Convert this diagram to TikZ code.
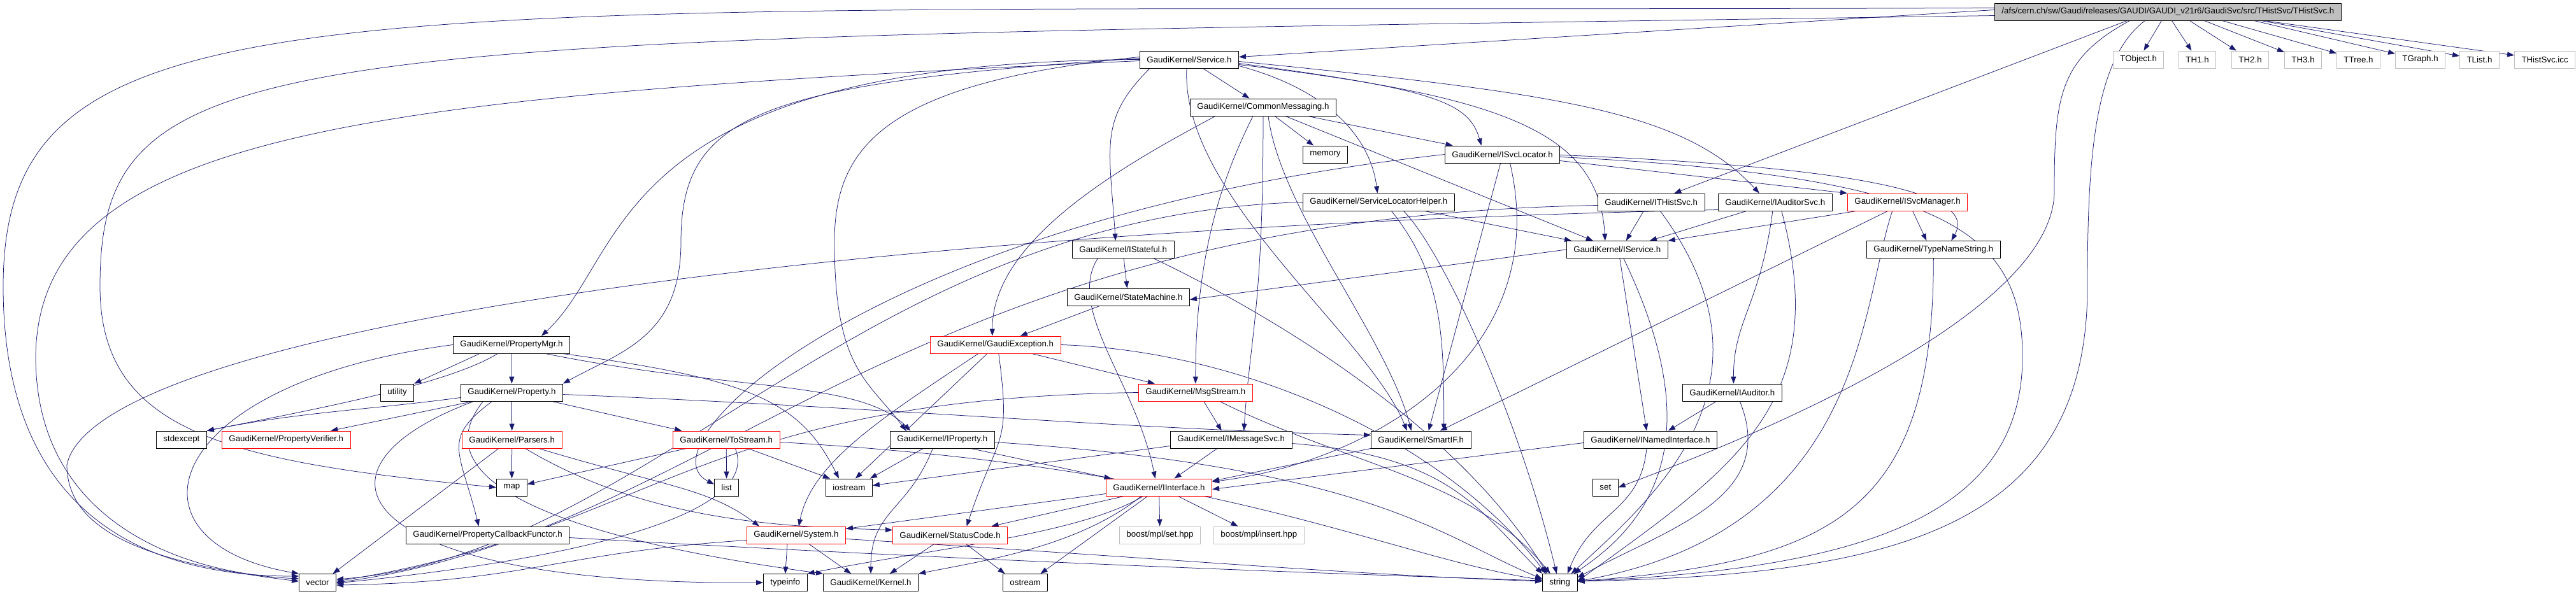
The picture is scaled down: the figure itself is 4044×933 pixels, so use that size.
\documentclass[tikz,border=0pt]{standalone}
\usepackage{fontspec}
\newfontfamily\dxfont{Liberation Sans}
\usetikzlibrary{arrows.meta}
\definecolor{edgeblue}{HTML}{191970}
\definecolor{rootgray}{HTML}{BFBFBF}
\pgfdeclarelayer{bg}
\pgfdeclarelayer{wires}
\pgfsetlayers{bg,wires,main}
\tikzset{
  hdr/.style={draw=black, fill=white, line width=0.9pt, anchor=west, inner xsep=11pt, inner ysep=0pt, minimum height=27pt, font=\dxfont\fontsize{13.3pt}{16pt}\selectfont},
  hdrcut/.style={hdr, draw=red},
  hdrext/.style={hdr, draw=rootgray},
  hdrroot/.style={hdr, fill=rootgray},
  incl/.style={draw=edgeblue, line width=0.75pt, -{Triangle[length=11pt,width=8pt]}}
}
\begin{document}
\begin{tikzpicture}[x=1pt,y=-1pt]
\begin{pgfonlayer}{bg}
\fill[white] (0,0) rectangle (4044,933);
\end{pgfonlayer}
\useasboundingbox (0,0) rectangle (4044,933);
\node[hdrroot] (top) at (3131,18.5) {/afs/cern.ch/sw/Gaudi/releases/GAUDI/GAUDI\_v21r6/GaudiSvc/src/THistSvc/THistSvc.h};
\node[hdr] (Service) at (1789,93.5) {GaudiKernel/Service.h};
\node[hdrext] (TObject) at (3317,93.5) {TObject.h};
\node[hdrext] (TH1) at (3420,93.5) {TH1.h};
\node[hdrext] (TH2) at (3503,93.5) {TH2.h};
\node[hdrext] (TH3) at (3586,93.5) {TH3.h};
\node[hdrext] (TTree) at (3668,93.5) {TTree.h};
\node[hdrext] (TGraph) at (3760,93.5) {TGraph.h};
\node[hdrext] (TList) at (3861,93.5) {TList.h};
\node[hdrext] (icc) at (3947,93.5) {THistSvc.icc};
\node[hdr] (CommonMsg) at (1868,168.5) {GaudiKernel/CommonMessaging.h};
\node[hdr] (memory) at (2045,242.5) {memory};
\node[hdr] (ISvcLocator) at (2268,242.5) {GaudiKernel/ISvcLocator.h};
\node[hdr] (SvcLocHelper) at (2045,317.5) {GaudiKernel/ServiceLocatorHelper.h};
\node[hdr] (ITHistSvc) at (2508,317.5) {GaudiKernel/ITHistSvc.h};
\node[hdr] (IAuditorSvc) at (2697,317.5) {GaudiKernel/IAuditorSvc.h};
\node[hdrcut] (ISvcManager) at (2900,317.5) {GaudiKernel/ISvcManager.h};
\node[hdr] (IStateful) at (1683,392) {GaudiKernel/IStateful.h};
\node[hdr] (IService) at (2459,392) {GaudiKernel/IService.h};
\node[hdr] (TypeNameString) at (2930,392) {GaudiKernel/TypeNameString.h};
\node[hdr] (StateMachine) at (1675,466.5) {GaudiKernel/StateMachine.h};
\node[hdr] (PropertyMgr) at (711,541.5) {GaudiKernel/PropertyMgr.h};
\node[hdrcut] (GaudiExc) at (1460,541.5) {GaudiKernel/GaudiException.h};
\node[hdr] (utility) at (597,616.5) {utility};
\node[hdr] (Property) at (723,616.5) {GaudiKernel/Property.h};
\node[hdrcut] (MsgStream) at (1787,616.5) {GaudiKernel/MsgStream.h};
\node[hdr] (IAuditor) at (2641,616.5) {GaudiKernel/IAuditor.h};
\node[hdr] (stdexcept) at (245,690.5) {stdexcept};
\node[hdrcut] (PropVerifier) at (348,690.5) {GaudiKernel/PropertyVerifier.h};
\node[hdrcut] (Parsers) at (725,690.5) {GaudiKernel/Parsers.h};
\node[hdrcut] (ToStream) at (1056,690.5) {GaudiKernel/ToStream.h};
\node[hdr] (IProperty) at (1397,690.5) {GaudiKernel/IProperty.h};
\node[hdr] (IMessageSvc) at (1837,690.5) {GaudiKernel/IMessageSvc.h};
\node[hdr] (SmartIF) at (2152,690.5) {GaudiKernel/SmartIF.h};
\node[hdr] (INamedIf) at (2486,690.5) {GaudiKernel/INamedInterface.h};
\node[hdr] (map) at (779,765.5) {map};
\node[hdr] (list) at (1121,765.5) {list};
\node[hdr] (iostream) at (1296,765.5) {iostream};
\node[hdrcut] (IInterface) at (1736,765.5) {GaudiKernel/IInterface.h};
\node[hdr] (set) at (2500,765.5) {set};
\node[hdr] (PropCbFunctor) at (637,840.5) {GaudiKernel/PropertyCallbackFunctor.h};
\node[hdrcut] (System) at (1172,840.5) {GaudiKernel/System.h};
\node[hdrcut] (StatusCode) at (1401,840.5) {GaudiKernel/StatusCode.h};
\node[hdrext] (mplset) at (1757,840.5) {boost/mpl/set.hpp};
\node[hdrext] (mplinsert) at (1905,840.5) {boost/mpl/insert.hpp};
\node[hdr] (vector) at (469,915) {vector};
\node[hdr] (typeinfo) at (1198,915) {typeinfo};
\node[hdr] (Kernel) at (1292,915) {GaudiKernel/Kernel.h};
\node[hdr] (ostream) at (1574,915) {ostream};
\node[hdr] (string) at (2421,915) {string};
\coordinate (wTopVec) at (5,450);
\coordinate (wTopMap) at (157,450);
\coordinate (wTopSet) at (3225,300);
\coordinate (wTopStr) at (3277,450);
\coordinate (wSvcProp) at (1069,380);
\coordinate (wSvcIProp) at (1310,380);
\coordinate (wSvcVec) at (56,560);
\coordinate (wLocStr) at (3175,560);
\coordinate (wAudVec) at (105,730);
\begin{pgfonlayer}{wires}
\draw[incl] ([yshift=3pt]top.west) -- ([yshift=4pt]Service.east);
\draw[incl] ([yshift=6pt]top.west) .. controls +(-2600,10) and +(0,-500) .. (wTopVec) .. controls +(0,350) and +(-250,0) .. ([yshift=10pt]vector.west);
\draw[incl] ([yshift=-6pt]top.west) .. controls +(-2700,40) and +(0,-400) .. (wTopMap) .. controls +(0,230) and +(-420,-40) .. (map.west);
\draw[incl] ([xshift=-60pt]top.south) .. controls +(-110,60) and +(0,-150) .. (wTopSet) .. controls +(0,150) and +(400,-150) .. (set.east);
\draw[incl] ([xshift=-36pt]top.south) .. controls +(-80,60) and +(0,-200) .. (wTopStr) .. controls +(0,380) and +(500,-10) .. ([yshift=2pt]string.east);
\draw[incl] ([xshift=-64pt]top.south) -- ([xshift=36pt]ITHistSvc.north);
\foreach \hdrname/\off in {TObject/-10, TH1/6, TH2/34, TH3/57, TTree/85, TGraph/135, TList/146, icc/151}
  \draw[incl] ([xshift=\off pt]top.south) -- (\hdrname);
\draw[incl] (Service) -- (CommonMsg);
\draw[incl] ([yshift=-6pt]Service.east) .. controls +(300,40) and +(-20,-70) .. ([xshift=-33pt]ISvcLocator.north);
\draw[incl] ([yshift=-8pt]Service.east) .. controls +(420,50) and +(-10,-170) .. ([xshift=-19pt]IService.north);
\draw[incl] ([yshift=-3pt]Service.east) .. controls +(500,50) and +(-120,-130) .. ([xshift=-25pt]IAuditorSvc.north);
\draw[incl] ([yshift=-10pt]Service.east) .. controls +(150,40) and +(-10,-80) .. ([xshift=-2pt]SvcLocHelper.north);
\draw[incl] ([xshift=-4pt]Service.south) .. controls +(-10,200) and +(-60,-150) .. ([xshift=-22pt]SmartIF.north);
\draw[incl] ([xshift=-62pt]Service.south) .. controls +(-80,80) and +(-10,-150) .. ([xshift=-12pt]IStateful.north);
\draw[incl] (Service.west) .. controls +(-839,3) and +(139,-128) .. ([xshift=47pt]PropertyMgr.north);
\draw[incl] ([yshift=2pt]Service.west) .. controls +(-600,40) and +(0,-200) .. (wSvcProp) .. controls +(0,150) and +(90,-50) .. (Property.north east);
\draw[incl] ([yshift=4pt]Service.west) .. controls +(-400,40) and +(0,-150) .. (wSvcIProp) .. controls +(0,200) and +(-60,-80) .. ([xshift=-57pt]IProperty.north);
\draw[incl] ([yshift=-2pt]Service.west) .. controls +(-1190,55) and +(4,-360) .. (wSvcVec) .. controls +(0,250) and +(-200,-10) .. ([yshift=6pt]vector.west);
\draw[incl] (CommonMsg) -- (memory);
\draw[incl] ([xshift=70pt]CommonMsg.south) -- ([xshift=-78pt]ISvcLocator.north);
\draw[incl] ([xshift=35pt]CommonMsg.south) -- ([xshift=-38pt]IService.north);
\draw[incl] ([xshift=-75pt]CommonMsg.south) .. controls +(-150,80) and +(0,-150) .. ([xshift=-5pt]GaudiExc.north);
\draw[incl] ([xshift=-16pt]CommonMsg.south) .. controls +(-50,100) and +(0,-200) .. (MsgStream.north);
\draw[incl] (CommonMsg.south) .. controls +(0,300) and +(10,-150) .. ([xshift=20pt]IMessageSvc.north);
\draw[incl] ([xshift=8pt]CommonMsg.south) .. controls +(20,150) and +(-40,-150) .. ([xshift=-15pt]SmartIF.north);
\draw[incl] ([yshift=-10pt]ISvcLocator.east) -- (ISvcManager.north west);
\draw[incl] ([yshift=-1pt]ISvcLocator.east) .. controls +(500,20) and +(40,-70) .. ([xshift=28pt]TypeNameString.north);
\draw[incl] ([yshift=-4pt]ISvcLocator.east) .. controls +(600,30) and +(0,-200) .. (wLocStr) .. controls +(0,250) and +(450,-20) .. ([yshift=2pt]string.east);
\draw[incl] ([xshift=-3pt]ISvcLocator.south) -- ([xshift=12pt]SmartIF.north);
\draw[incl] ([xshift=12pt]ISvcLocator.south) .. controls +(70,300) and +(250,-30) .. ([yshift=9pt]IInterface.east);
\draw[incl] (ISvcLocator.west) .. controls +(-900,100) and +(-120,-60) .. ([yshift=5pt]list.west);
\draw[incl] ([xshift=72pt]SvcLocHelper.south) -- ([xshift=8pt]IService.north west);
\draw[incl] ([xshift=20pt]SvcLocHelper.south) .. controls +(80,100) and +(0,-150) .. ([xshift=36pt]SmartIF.north);
\draw[incl] ([xshift=39pt]SvcLocHelper.south) .. controls +(60,60) and +(-60,-250) .. ([xshift=-5pt]string.north);
\draw[incl] (SvcLocHelper.west) .. controls +(-700,20) and +(500,-40) .. ([yshift=5pt]vector.east);
\draw[incl] ([xshift=-12pt]ITHistSvc.south) -- ([xshift=14pt]IService.north);
\draw[incl] ([xshift=14pt]ITHistSvc.south) .. controls +(200,270) and +(130,-120) .. ([xshift=18pt]string.north);
\draw[incl] ([yshift=-5pt]ITHistSvc.west) .. controls +(-1100,20) and +(600,-80) .. (vector.east);
\draw[incl] ([xshift=-45pt]IAuditorSvc.south) -- ([xshift=51pt]IService.north);
\draw[incl] ([xshift=-4pt]IAuditorSvc.south) .. controls +(-20,150) and +(0,-100) .. ([xshift=2pt]IAuditor.north);
\draw[incl] ([xshift=10pt]IAuditorSvc.south) .. controls +(80,300) and +(250,-180) .. ([yshift=2pt]string.east);
\draw[incl] ([yshift=-12pt]IAuditorSvc.west) .. controls +(-1397,30) and +(45,-210) .. (wAudVec) .. controls +(0,100) and +(-250,-30) .. ([yshift=2pt]vector.west);
\draw[incl] ([xshift=-80pt]ISvcManager.south) -- (IService.north east);
\draw[incl] ([xshift=-31pt]ISvcManager.south) -- ([xshift=30pt]SmartIF.north);
\draw[incl] ([xshift=-24pt]ISvcManager.south) .. controls +(-50,150) and +(450,-80) .. ([yshift=2pt]string.east);
\draw[incl] ([xshift=8pt]ISvcManager.south) -- ([xshift=-11pt]TypeNameString.north);
\draw[incl] (TypeNameString.south) .. controls +(0,400) and +(400,-30) .. ([yshift=2pt]string.east);
\draw[incl] ([xshift=1pt]IStateful.south) -- ([xshift=-2pt]StateMachine.north);
\draw[incl] ([xshift=-40pt]IStateful.south) .. controls +(-50,80) and +(-30,-150) .. ([xshift=-6pt]IInterface.north);
\draw[incl] ([xshift=48pt]IStateful.south) .. controls +(250,120) and +(-120,-200) .. ([xshift=-20pt]string.north);
\draw[incl] (IService.west) -- ([yshift=-4pt]StateMachine.east);
\draw[incl] ([xshift=4pt]IService.south) -- ([xshift=-6pt]INamedIf.north);
\draw[incl] ([xshift=10pt]IService.south) .. controls +(120,250) and +(150,-100) .. ([xshift=22pt]string.north);
\draw[incl] ([xshift=-45pt]StateMachine.south) -- ([xshift=39pt]GaudiExc.north);
\draw[incl] ([xshift=57pt]GaudiExc.south) -- ([xshift=-64pt]MsgStream.north);
\draw[incl] ([xshift=-27pt]GaudiExc.south) .. controls +(-150,100) and +(20,-100) .. ([xshift=4pt]System.north);
\draw[incl] ([xshift=-13pt]GaudiExc.south) -- ([xshift=10pt]iostream.north);
\draw[incl] ([xshift=5pt]GaudiExc.south) .. controls +(20,150) and +(50,-150) .. ([xshift=26pt]StatusCode.north);
\draw[incl] (GaudiExc.east) .. controls +(300,10) and +(-150,-200) .. ([xshift=-22pt]string.north);
\draw[incl] ([xshift=13pt]MsgStream.south) -- ([xshift=-15pt]IMessageSvc.north);
\draw[incl] (MsgStream.west) .. controls +(-700,10) and +(500,-80) .. ([yshift=2pt]vector.east);
\draw[incl] ([xshift=38pt]MsgStream.south) .. controls +(200,100) and +(-120,-150) .. ([xshift=-15pt]string.north);
\draw[incl] ([xshift=-22pt]IMessageSvc.south) -- ([xshift=24pt]IInterface.north);
\draw[incl] ([yshift=-10pt]IMessageSvc.west) -- ([yshift=3pt]iostream.east);
\draw[incl] ([yshift=-6pt]IMessageSvc.east) .. controls +(250,20) and +(-100,-100) .. (string.north west);
\draw[incl] ([xshift=45pt]IProperty.south) -- ([xshift=-75pt]IInterface.north);
\draw[incl] ([xshift=-30pt]IProperty.south) -- ([xshift=33pt]iostream.north);
\draw[incl] ([xshift=-15pt]IProperty.south) .. controls +(-40,100) and +(0,-100) .. (Kernel.north);
\draw[incl] ([yshift=-4pt]IProperty.east) .. controls +(600,40) and +(-150,-60) .. ([yshift=6pt]string.west);
\draw[incl] (ToStream.south) -- (list.north);
\draw[incl] ([xshift=34pt]ToStream.south) -- ([xshift=-30pt]iostream.north);
\draw[incl] ([xshift=-63pt]ToStream.south) -- ([yshift=5pt]map.east);
\draw[incl] ([xshift=14pt]ToStream.south) .. controls +(40,100) and +(400,-40) .. ([yshift=-1pt]vector.east);
\draw[incl] ([yshift=-4pt]ToStream.east) .. controls +(700,40) and +(-250,-40) .. ([yshift=4pt]string.west);
\draw[incl] (Parsers) -- (map);
\draw[incl] ([xshift=-21pt]Parsers.south) -- ([xshift=24pt]vector.north);
\draw[incl] ([xshift=21pt]Parsers.south) .. controls +(200,120) and +(-150,-5) .. ([yshift=8pt]StatusCode.west);
\draw[incl] ([xshift=42pt]Parsers.south) .. controls +(200,60) and +(-80,-60) .. ([xshift=-58pt]System.north);
\draw[incl] ([yshift=-8pt]Property.west) .. controls +(-150,20) and +(150,-30) .. (stdexcept.north east);
\draw[incl] ([xshift=-61pt]Property.south) -- ([xshift=70pt]PropVerifier.north);
\draw[incl] (Property) -- (Parsers);
\draw[incl] ([xshift=63pt]Property.south) -- ([xshift=-70pt]ToStream.north);
\draw[incl] ([xshift=-31pt]Property.south) .. controls +(-80,60) and +(-30,-120) .. ([xshift=-14pt]PropCbFunctor.north);
\draw[incl] ([xshift=-60pt]Property.south) .. controls +(-293,110) and +(-638,5) .. (typeinfo.west);
\draw[incl] ([xshift=-45pt]Property.south) .. controls +(-120,150) and +(-300,-40) .. (Kernel.north west);
\draw[incl] ([yshift=-3pt]Property.east) .. controls +(500,20) and +(-400,-10) .. ([yshift=7pt]SmartIF.west);
\draw[incl] ([xshift=-50pt]PropertyMgr.south) -- (utility.north east);
\draw[incl] (PropertyMgr) -- (Property);
\draw[incl] ([xshift=-22pt]PropertyMgr.south) .. controls +(-80,50) and +(150,-30) .. (stdexcept.north east);
\draw[incl] (PropertyMgr.west) .. controls +(-460,60) and +(-290,-50) .. (vector.north west);
\draw[incl] ([xshift=53pt]PropertyMgr.south) .. controls +(300,60) and +(-80,-80) .. ([xshift=-50pt]IProperty.north);
\draw[incl] ([xshift=80pt]PropertyMgr.south) .. controls +(300,40) and +(-60,-120) .. ([xshift=-16pt]iostream.north);
\draw[incl] ([yshift=-4pt]PropCbFunctor.east) .. controls +(700,40) and +(-300,-10) .. ([yshift=3pt]string.west);
\draw[incl] (SmartIF.south west) -- ([yshift=10pt]IInterface.east);
\draw[incl] ([yshift=-5pt]INamedIf.west) -- ([yshift=-3pt]IInterface.east);
\draw[incl] ([xshift=-6pt]INamedIf.south) .. controls +(-10,100) and +(40,-100) .. ([xshift=12pt]string.north);
\draw[incl] ([xshift=-25pt]IAuditor.south) -- ([xshift=28pt]INamedIf.north);
\draw[incl] ([xshift=12pt]IAuditor.south) .. controls +(60,150) and +(150,-80) .. ([yshift=8pt]string.east);
\draw[incl] ([yshift=-10pt]IInterface.west) -- ([yshift=10pt]System.east);
\draw[incl] ([xshift=-55pt]IInterface.south) -- ([xshift=65pt]StatusCode.north);
\draw[incl] ([xshift=-28pt]IInterface.south) .. controls +(-100,80) and +(100,-20) .. (Kernel.north east);
\draw[incl] ([xshift=-25pt]IInterface.south) .. controls +(-100,60) and +(200,-40) .. (typeinfo.north east);
\draw[incl] (IInterface) -- (mplset);
\draw[incl] ([xshift=30pt]IInterface.south) -- ([xshift=-33pt]mplinsert.north);
\draw[incl] ([xshift=-18pt]IInterface.south) -- ([xshift=24pt]ostream.north);
\draw[incl] ([xshift=-14pt]System.south) -- (typeinfo.north);
\draw[incl] ([xshift=20pt]System.south) -- ([xshift=-31pt]Kernel.north);
\draw[incl] ([yshift=-6pt]System.east) .. controls +(500,30) and +(-300,-10) .. ([yshift=2pt]string.west);
\draw[incl] ([yshift=-8pt]System.west) .. controls +(-300,20) and +(300,-5) .. ([yshift=-4pt]vector.east);
\draw[incl] ([xshift=-25pt]StatusCode.south) -- ([xshift=30pt]Kernel.north);
\draw[incl] ([xshift=25pt]StatusCode.south) -- ([xshift=-32pt]ostream.north);
\end{pgfonlayer}
\end{tikzpicture}
\end{document}
